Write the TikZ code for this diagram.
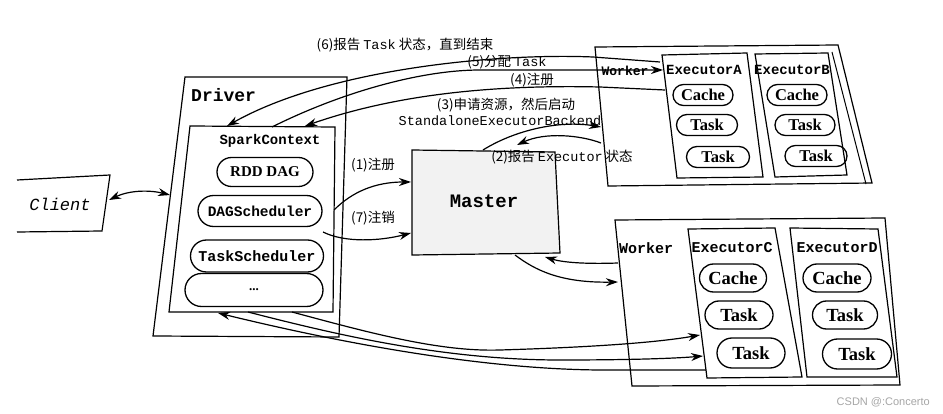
\documentclass[tikz,border=0pt]{standalone}
\usepackage{fontspec}
\setmainfont{Liberation Serif}
\setmonofont{Liberation Mono}
\newfontfamily\cjk{Noto Sans CJK SC}
\newfontfamily\wmfont{Liberation Sans}
\usetikzlibrary{shapes.misc,arrows.meta}
\tikzset{
  box/.style={draw,line width=1.2pt},
  pill/.style={draw,line width=1.3pt,rounded rectangle,inner sep=0pt},
  conn/.style={line width=1.2pt,-{Stealth[length=12pt,width=8pt]}},
  lbl/.style={font=\cjk\fontsize{13.5}{15}\selectfont,inner sep=0pt},
  ttb/.style={font=\ttfamily\bfseries\fontsize{#1}{#1}\selectfont,inner sep=0pt},
  smallpill/.style={pill,minimum height=21pt,font=\bfseries\fontsize{16.5}{16.5}\selectfont},
  bigpill/.style={pill,minimum height=28pt,font=\bfseries\fontsize{18.5}{18.5}\selectfont},
}
\begin{document}
\begin{tikzpicture}[x=1pt,y=-1pt]
\useasboundingbox (0,0) rectangle (943,414);
\fill[white] (0,0) rectangle (943,414);

% ---------- Client ----------
\draw[box] (17,180) -- (110,175) -- (102,231) -- (17,232);
\node[font=\ttfamily\itshape\fontsize{17}{17}\selectfont,inner sep=0pt] (client) at (60,204) {Client};

% ---------- Driver ----------
\draw[box] (185,77) -- (347,77) -- (339,337) -- (153,336) -- cycle;
\node[ttb=18,anchor=west] (driver) at (191,95) {Driver};
\draw[box] (190,126) -- (335,127) -- (333,312) -- (169,312) -- cycle;
\node[ttb=14] (sctx) at (270,141) {SparkContext};
\node[pill,minimum width=96pt,minimum height=29pt,font=\bfseries\fontsize{15}{15}\selectfont] (rdd) at (265,172) {RDD DAG};
\node[pill,minimum width=124pt,minimum height=31pt,font=\ttfamily\bfseries\fontsize{14.5}{14.5}\selectfont] (dag) at (260,211) {DAGScheduler};
\node[pill,minimum width=133pt,minimum height=32pt,font=\ttfamily\bfseries\fontsize{15}{15}\selectfont] (tsch) at (257,256) {TaskScheduler};
\node[pill,minimum width=138pt,minimum height=33pt,font=\bfseries\fontsize{13}{13}\selectfont] (dots) at (254,290) {...};

% ---------- Master ----------
\draw[box,fill=gray!10] (412,150) -- (555,152) -- (560,253) -- (412,255) -- cycle;
\node[ttb=19] (master) at (484,201) {Master};

% ---------- Worker (top) ----------
\draw[box] (595,47) -- (838,45) -- (872,183) -- (608,186) -- cycle;
\draw[line width=1pt] (832,52) -- (866,184);
\draw[box] (662,55) -- (747,53) -- (763,177) -- (677,178) -- cycle;
\draw[box] (755,54) -- (828,53) -- (847,175) -- (775,177) -- cycle;
\node[ttb=13] (workerA) at (625,71) {Worker};
\node[ttb=14] (exAl) at (704,70) {ExecutorA};
\node[ttb=14] (exBl) at (792,70) {ExecutorB};
\node[smallpill,minimum width=60pt] (cacheA) at (703,95) {Cache};
\node[smallpill,minimum width=61pt] (taskA1) at (707,125) {Task};
\node[smallpill,minimum width=63pt] (taskA2) at (718,157) {Task};
\node[smallpill,minimum width=60pt] (cacheB) at (797,95) {Cache};
\node[smallpill,minimum width=60pt] (taskB1) at (805,125) {Task};
\node[smallpill,minimum width=62pt] (taskB2) at (816,156) {Task};

% ---------- Worker (bottom) ----------
\draw[box] (615,220) -- (885,218) -- (900,385) -- (632,386) -- cycle;
\draw[box] (688,229) -- (775,228) -- (802,377) -- (707,378) -- cycle;
\draw[box] (790,228) -- (878,229) -- (897,377) -- (807,377) -- cycle;
\node[ttb=15] (workerB) at (646,248) {Worker};
\node[ttb=15] (exCl) at (732,248) {ExecutorC};
\node[ttb=15] (exDl) at (837,248) {ExecutorD};
\node[bigpill,minimum width=67pt] (cacheC) at (733,278) {Cache};
\node[bigpill,minimum width=68pt] (taskC1) at (739,315) {Task};
\node[bigpill,minimum width=68pt,minimum height=30pt] (taskC2) at (751,353) {Task};
\node[bigpill,minimum width=68pt] (cacheD) at (837,278) {Cache};
\node[bigpill,minimum width=65pt] (taskD1) at (845,315) {Task};
\node[bigpill,minimum width=69pt,minimum height=30pt] (taskD2) at (857,354) {Task};

% ---------- connector end points ----------
\coordinate (clientR) at (109,200);
\coordinate (driverL) at (170,195);
\coordinate (sc6) at (227,126);
\coordinate (sc5) at (272,127);
\coordinate (sc4) at (305,126);
\coordinate (sc1) at (334,210);
\coordinate (sc7) at (323,232);
\coordinate (mL1) at (411,182);
\coordinate (mL7) at (411,233);
\coordinate (mTop) at (483,150);
\coordinate (mTR) at (517,145);
\coordinate (wL3) at (601,127);
\coordinate (wL2) at (601,143);
\coordinate (exA4) at (665,90);
\coordinate (exA5) at (663,70);
\coordinate (exA6) at (660,62);
\coordinate (mB) at (515,255);
\coordinate (mBR) at (545,257);
\coordinate (w2a) at (618,263);
\coordinate (w2b) at (618,282);
\coordinate (scA) at (218,313);
\coordinate (scB) at (248,312);
\coordinate (scC) at (292,312);
\coordinate (exCa) at (706,370);
\coordinate (exCb) at (703,356);
\coordinate (exCc) at (700,335);

% ---------- connectors ----------
\draw[line width=1.2pt,{Stealth[length=12pt,width=8pt]}-{Stealth[length=12pt,width=8pt]}]
  (clientR) .. controls (130,190) and (150,190) .. (driverL);
\draw[conn] (sc1) .. controls (352,192) and (375,182) .. (mL1);
\draw[conn] (sc7) .. controls (345,243) and (380,241) .. (mL7);
\draw[conn] (mTop) .. controls (515,130) and (560,120) .. (wL3);
\draw[conn] (wL2) .. controls (580,135) and (545,132) .. (mTR);
\draw[conn] (exA4) -- (600,87) .. controls (470,84) and (380,100) .. (sc4);
\draw[conn] (sc5) .. controls (340,93) and (420,70) .. (480,70) -- (exA5);
\draw[conn] (exA6) -- (593,57) .. controls (500,53) and (330,68) .. (sc6);
\draw[conn] (w2a) .. controls (590,264) and (565,263) .. (mBR);
\draw[conn] (mB) .. controls (535,270) and (560,283) .. (w2b);
\draw[conn] (exCa) -- (600,370) .. controls (460,369) and (300,333) .. (scA);
\draw[conn] (scB) .. controls (330,333) and (440,360) .. (560,360) .. controls (640,360) and (680,358) .. (exCb);
\draw[conn] (scC) .. controls (370,333) and (440,352) .. (500,350) .. controls (600,347) and (660,342) .. (exCc);

% ---------- labels ----------
\node[lbl] (l6) at (405,45) {(6)报告 {\ttfamily Task} 状态，直到结束};
\node[lbl] (l5) at (507,62) {(5)分配 {\ttfamily Task}};
\node[lbl] (l4) at (532,80) {(4)注册};
\node[lbl] (l3a) at (506,105) {(3)申请资源，然后启动};
\node[font=\ttfamily\fontsize{13.5}{13.5}\selectfont,inner sep=0pt] (l3b) at (500,121) {StandaloneExecutorBackend};
\node[lbl] (l2) at (562,157) {(2)报告 {\ttfamily Executor} 状态};
\node[lbl] (l1) at (373,165) {(1)注册};
\node[lbl] (l7) at (373,218) {(7)注销};

\node[font=\wmfont\fontsize{11}{11}\selectfont,text=gray!70,anchor=east,inner sep=0pt] (wm) at (930,402) {CSDN @:Concerto};
\end{tikzpicture}
\end{document}
